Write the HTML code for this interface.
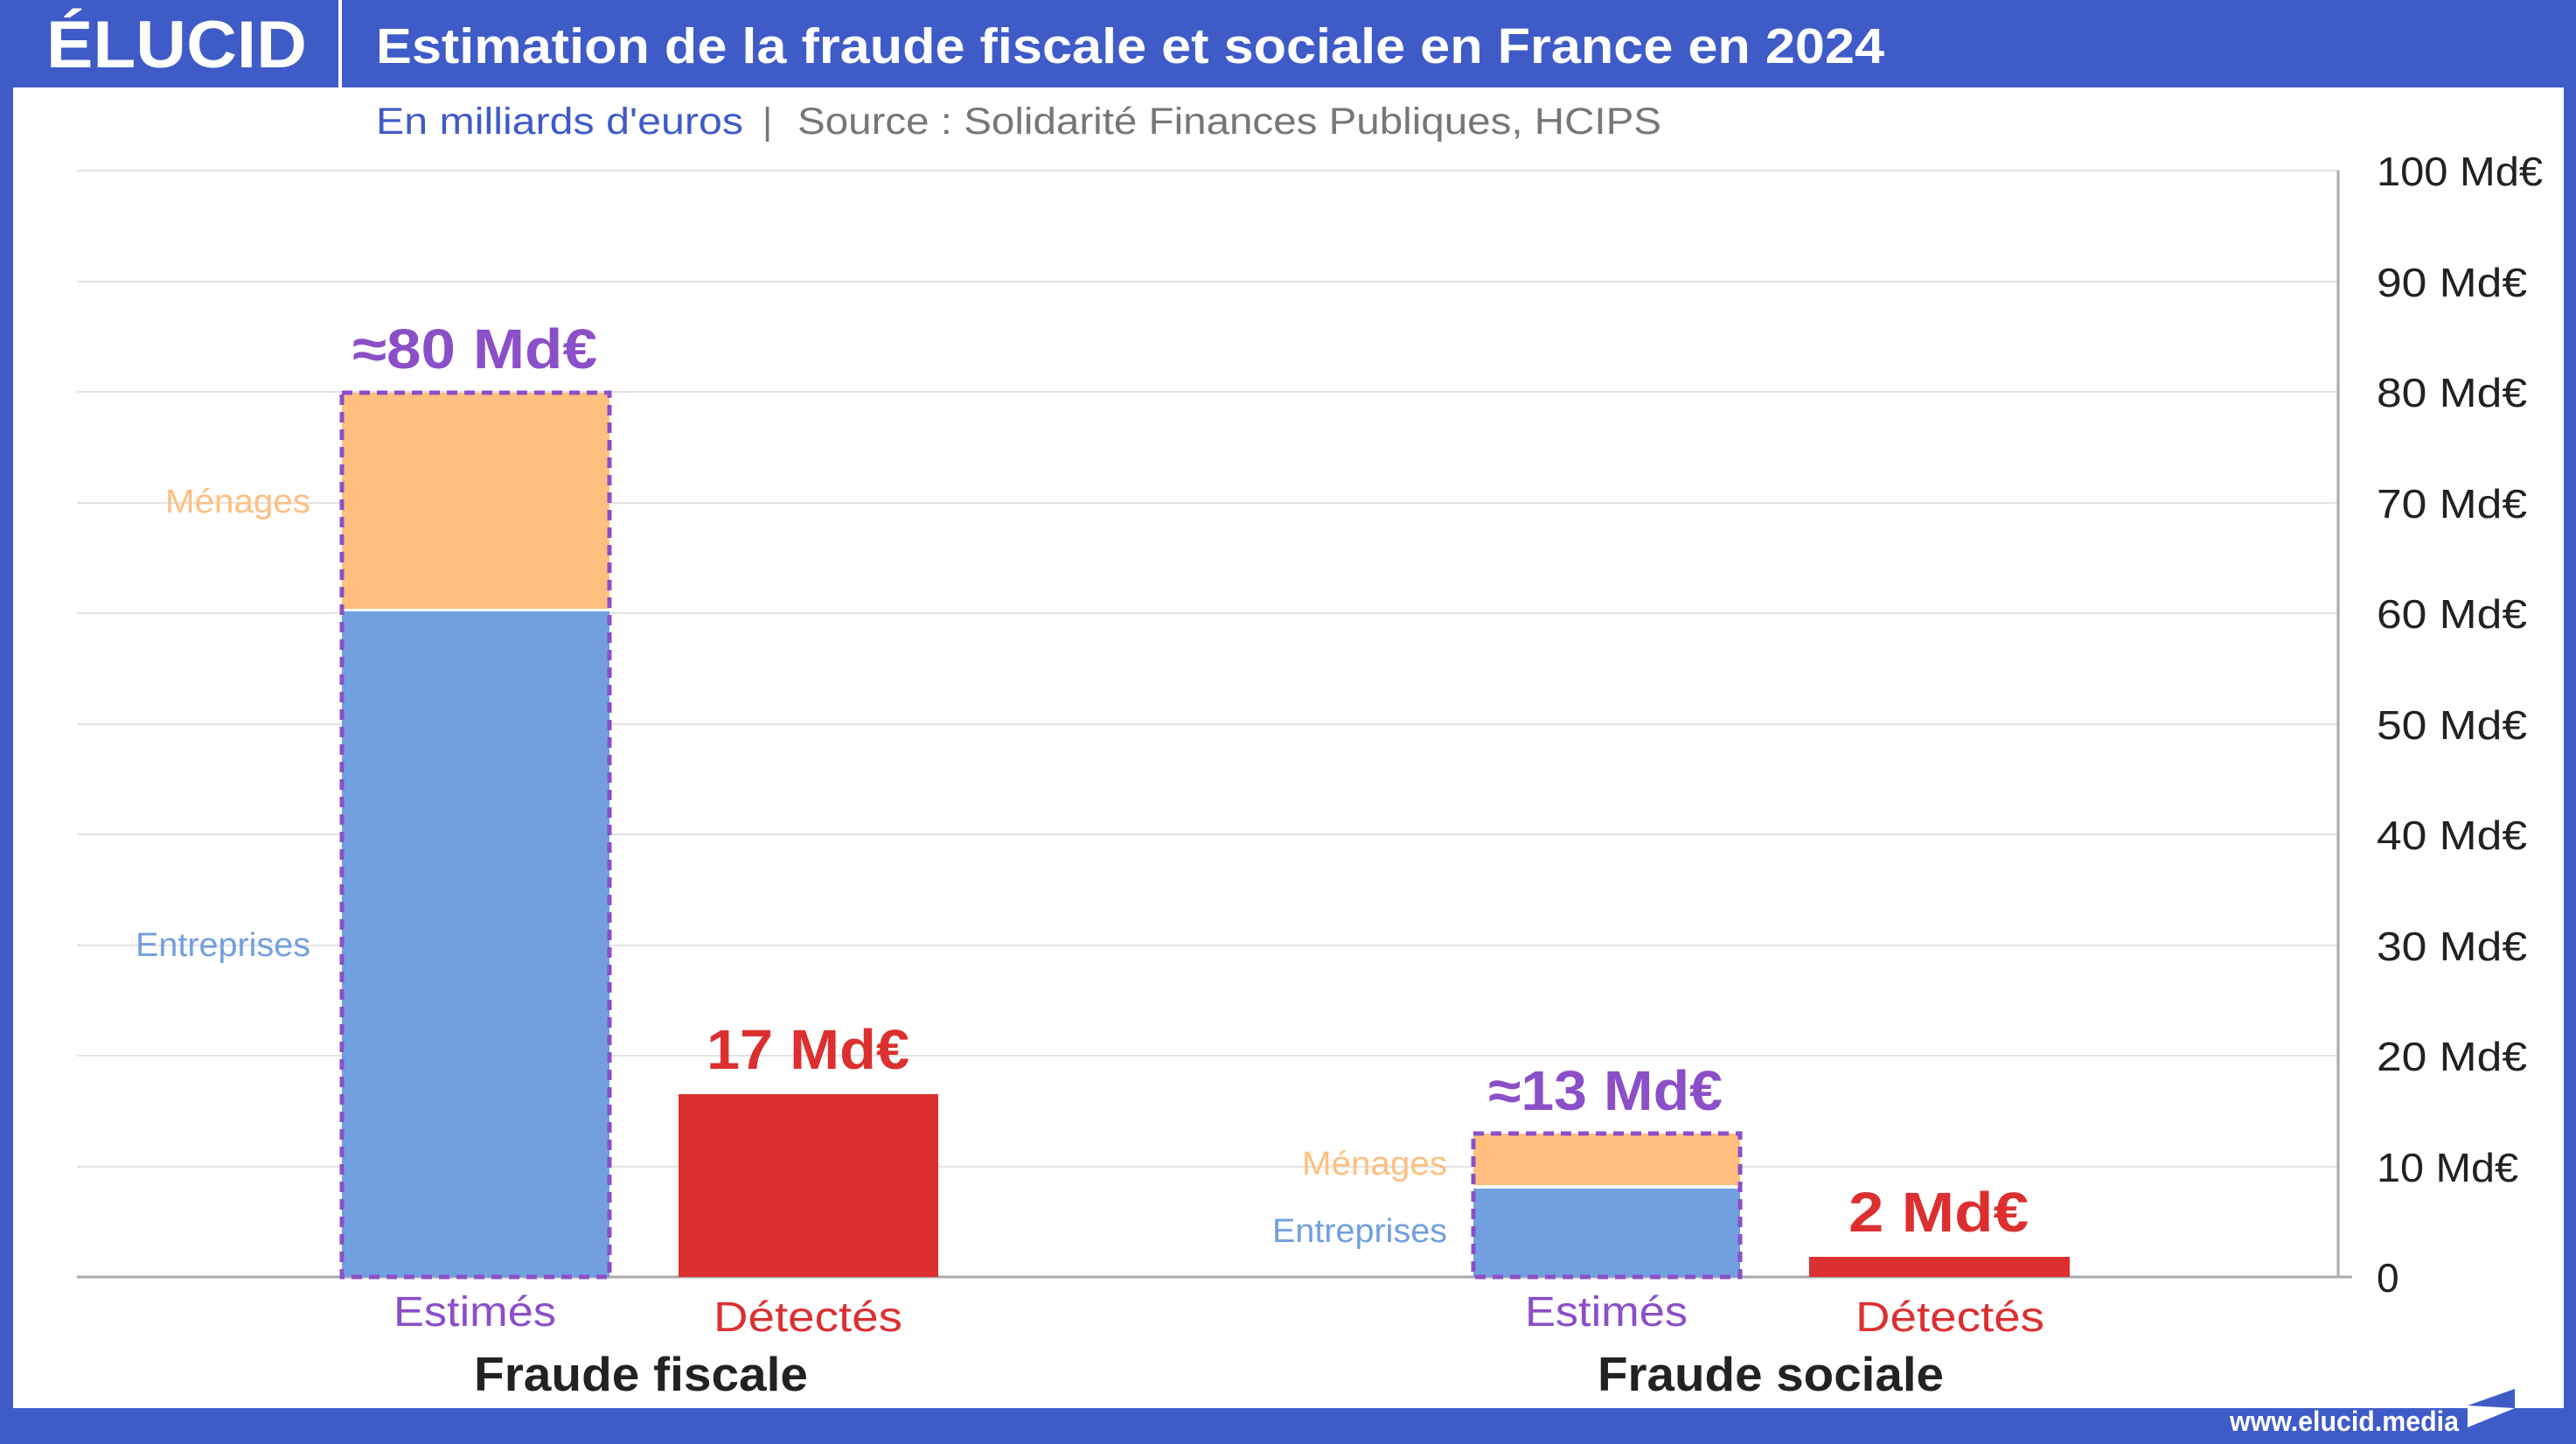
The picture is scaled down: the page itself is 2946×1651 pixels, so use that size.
<!DOCTYPE html>
<html><head><meta charset="utf-8"><style>
html,body{margin:0;padding:0;background:#fff}
svg{display:block}
text{font-family:"Liberation Sans",sans-serif}
</style></head><body>
<svg width="2946" height="1651" viewBox="0 0 2946 1651" xmlns="http://www.w3.org/2000/svg">
<rect x="0" y="0" width="2946" height="1651" fill="#3f5bc8"/>
<rect x="15" y="100" width="2917" height="1510" fill="#fff"/>
<rect x="387" y="0" width="4" height="100" fill="#fff"/>
<text x="53" y="77" font-size="76" font-weight="bold" fill="#fff" textLength="298" lengthAdjust="spacingAndGlyphs">ÉLUCID</text>
<text x="430" y="72" font-size="57" font-weight="bold" fill="#fff" textLength="1725" lengthAdjust="spacingAndGlyphs">Estimation de la fraude fiscale et sociale en France en 2024</text>
<text x="430" y="153" font-size="43" fill="#3f5bc8" textLength="420" lengthAdjust="spacingAndGlyphs">En milliards d'euros</text>
<text x="872" y="153" font-size="43" fill="#777">|</text>
<text x="912" y="153" font-size="43" fill="#777" textLength="988" lengthAdjust="spacingAndGlyphs">Source : Solidarité Finances Publiques, HCIPS</text>
<g stroke="#e3e3e3" stroke-width="2">
<line x1="88" x2="2674" y1="195" y2="195"/><line x1="88" x2="2674" y1="322" y2="322"/>
<line x1="88" x2="2674" y1="448" y2="448"/><line x1="88" x2="2674" y1="575" y2="575"/>
<line x1="88" x2="2674" y1="701" y2="701"/><line x1="88" x2="2674" y1="828" y2="828"/>
<line x1="88" x2="2674" y1="954" y2="954"/><line x1="88" x2="2674" y1="1081" y2="1081"/>
<line x1="88" x2="2674" y1="1207" y2="1207"/><line x1="88" x2="2674" y1="1334" y2="1334"/>
</g>
<line x1="88" x2="2690" y1="1460" y2="1460" stroke="#aaa" stroke-width="3"/>
<line x1="2674" x2="2674" y1="195" y2="1460" stroke="#aaa" stroke-width="3"/>
<g font-size="46" fill="#222">
<text x="2718" y="212" textLength="190" lengthAdjust="spacingAndGlyphs">100 Md€</text>
<text x="2718" y="339" textLength="172" lengthAdjust="spacingAndGlyphs">90 Md€</text>
<text x="2718" y="465" textLength="172" lengthAdjust="spacingAndGlyphs">80 Md€</text>
<text x="2718" y="592" textLength="172" lengthAdjust="spacingAndGlyphs">70 Md€</text>
<text x="2718" y="718" textLength="172" lengthAdjust="spacingAndGlyphs">60 Md€</text>
<text x="2718" y="845" textLength="172" lengthAdjust="spacingAndGlyphs">50 Md€</text>
<text x="2718" y="971" textLength="172" lengthAdjust="spacingAndGlyphs">40 Md€</text>
<text x="2718" y="1098" textLength="172" lengthAdjust="spacingAndGlyphs">30 Md€</text>
<text x="2718" y="1224" textLength="172" lengthAdjust="spacingAndGlyphs">20 Md€</text>
<text x="2718" y="1351" textLength="162" lengthAdjust="spacingAndGlyphs">10 Md€</text>
<text x="2718" y="1477">0</text>
</g>
<rect x="391" y="699" width="306" height="761" fill="#729fe0"/>
<rect x="391" y="449" width="306" height="247" fill="#ffbf7f"/>
<rect x="391" y="449" width="306" height="1011" fill="none" stroke="#8b4fc8" stroke-width="5" stroke-dasharray="12,8"/>
<rect x="776" y="1251" width="297" height="209" fill="#dc3030"/>
<rect x="1685" y="1359" width="305" height="101" fill="#729fe0"/>
<rect x="1685" y="1296" width="305" height="59" fill="#ffbf7f"/>
<rect x="1685" y="1296" width="305" height="164" fill="none" stroke="#8b4fc8" stroke-width="5" stroke-dasharray="12,8"/>
<rect x="2069" y="1437" width="298" height="23" fill="#dc3030"/>
<g font-size="64" font-weight="bold" text-anchor="middle">
<text x="543" y="421" fill="#8b4fc8" textLength="280" lengthAdjust="spacingAndGlyphs">≈80 Md€</text>
<text x="924" y="1222" fill="#dc3030" textLength="232" lengthAdjust="spacingAndGlyphs">17 Md€</text>
<text x="1836" y="1269" fill="#8b4fc8" textLength="268" lengthAdjust="spacingAndGlyphs">≈13 Md€</text>
<text x="2217" y="1408" fill="#dc3030" textLength="206" lengthAdjust="spacingAndGlyphs">2 Md€</text>
</g>
<g font-size="38" text-anchor="end">
<text x="355" y="586" fill="#ffbf7f" textLength="166" lengthAdjust="spacingAndGlyphs">Ménages</text>
<text x="355" y="1093" fill="#729fe0" textLength="200" lengthAdjust="spacingAndGlyphs">Entreprises</text>
<text x="1655" y="1343" fill="#ffbf7f" textLength="166" lengthAdjust="spacingAndGlyphs">Ménages</text>
<text x="1655" y="1420" fill="#729fe0" textLength="200" lengthAdjust="spacingAndGlyphs">Entreprises</text>
</g>
<g font-size="48" text-anchor="middle">
<text x="543" y="1516" fill="#8b4fc8" textLength="186" lengthAdjust="spacingAndGlyphs">Estimés</text>
<text x="924" y="1522" fill="#dc3030" textLength="216" lengthAdjust="spacingAndGlyphs">Détectés</text>
<text x="1837" y="1516" fill="#8b4fc8" textLength="186" lengthAdjust="spacingAndGlyphs">Estimés</text>
<text x="2230" y="1522" fill="#dc3030" textLength="216" lengthAdjust="spacingAndGlyphs">Détectés</text>
</g>
<g font-size="55" font-weight="bold" text-anchor="middle" fill="#222">
<text x="733" y="1590" textLength="382" lengthAdjust="spacingAndGlyphs">Fraude fiscale</text>
<text x="2025" y="1590" textLength="396" lengthAdjust="spacingAndGlyphs">Fraude sociale</text>
</g>
<text x="2812" y="1636" font-size="32" font-weight="bold" fill="#fff" text-anchor="end" textLength="262" lengthAdjust="spacingAndGlyphs">www.elucid.media</text>
<polygon points="2822,1607 2876,1588 2876,1610" fill="#3f5bc8"/>
<polygon points="2822,1610 2876,1610 2822,1632" fill="#fff"/>
</svg>
</body></html>
